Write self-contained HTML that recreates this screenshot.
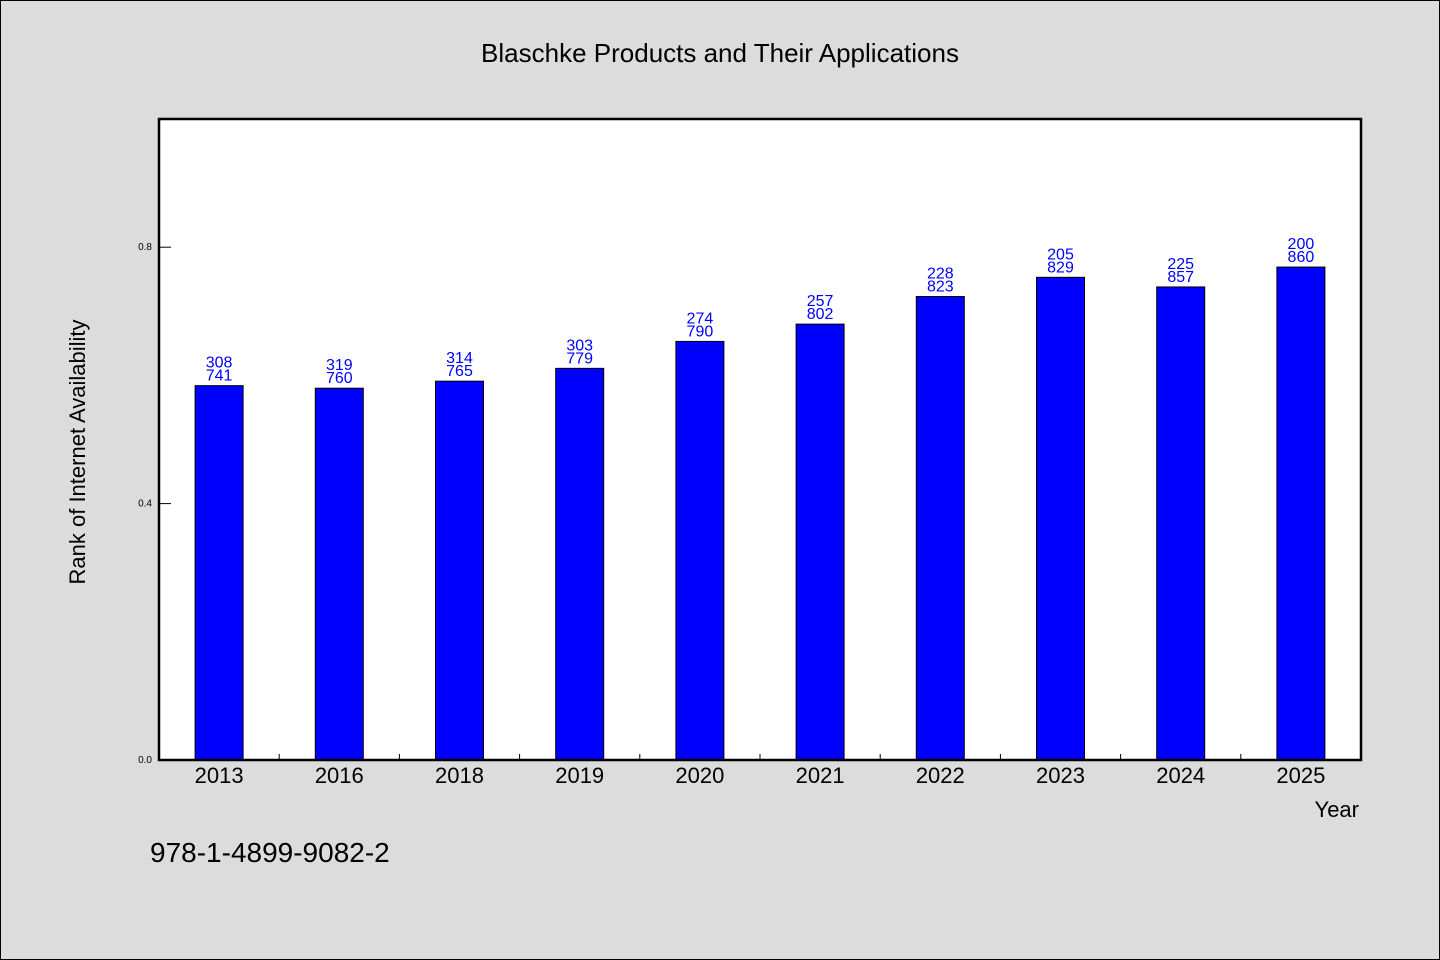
<!DOCTYPE html>
<html><head><meta charset="utf-8"><style>
body{margin:0;background:#dcdcdc;}
svg{display:block;font-family:"WenQuanYi Zen Hei","Liberation Sans",sans-serif;}
</style></head><body>
<svg id="chart" width="1440" height="960">
<rect x="0.5" y="0.5" width="1439" height="959" fill="#dcdcdc" stroke="#000"/>
<text x="720" y="62" text-anchor="middle" font-size="26">Blaschke Products and Their Applications</text>
<rect x="159" y="119" width="1202" height="641" fill="#fff"/>
<g id="bars"></g>
<g id="axes"></g>
<rect x="159" y="119" width="1202" height="641" fill="none" stroke="#000" stroke-width="2.5"/>
<text transform="translate(85,452) rotate(-90)" text-anchor="middle" font-size="22">Rank of Internet Availability</text>
<text x="1359" y="817" text-anchor="end" font-size="22">Year</text>
<text x="150" y="862" font-size="28">978-1-4899-9082-2</text>
</svg>
<script>
const categories=["2013","2016","2018","2019","2020","2021","2022","2023","2024","2025"];
const values=[0.584,0.580,0.591,0.611,0.653,0.680,0.723,0.753,0.738,0.769];
const labelTop=["308","319","314","303","274","257","228","205","225","200"];
const labelBottom=["741","760","765","779","790","802","823","829","857","860"];
const yTicks=[0,0.4,0.8];
const yTickLabels=["0.0","0.4","0.8"];
const NS="http://www.w3.org/2000/svg";
const X0=159,W=1202,Y0=760,H=641,YMAX=1.0;
const bw=W/categories.length;
const xs=i=>X0+bw*(i+0.5);
const ys=v=>Y0-v/YMAX*H;
function mk(t,a,p){const e=document.createElementNS(NS,t);for(const k in a)e.setAttribute(k,a[k]);p.appendChild(e);return e;}
const gb=document.getElementById('bars'),ga=document.getElementById('axes');
categories.forEach((c,i)=>{
 const x=xs(i),y=ys(values[i]);
 const r=mk('rect',{x:x-24,y:y,width:48,height:Y0-y,fill:'#0000ff',stroke:'#000','stroke-width':1},gb);
 
 
 const t1=mk('text',{x:x,y:y-18,'text-anchor':'middle','font-size':16,fill:'#0000ff'},gb);t1.textContent=labelTop[i];
 
 
 const t2=mk('text',{x:x,y:y-5,'text-anchor':'middle','font-size':16,fill:'#0000ff'},gb);t2.textContent=labelBottom[i];
 
 
 const xl=mk('text',{x:x,y:783,'text-anchor':'middle','font-size':22},ga);xl.textContent=c;
 
 
 if(i>0){const tk=mk('line',{x1:X0+bw*i,x2:X0+bw*i,y1:Y0,y2:Y0-6,stroke:'#000'},ga);
 
 }
});
yTicks.forEach((v,i)=>{
 const y=ys(v);
 const tk=mk('line',{x1:X0,x2:X0+12,y1:y,y2:y,stroke:'#000'},ga);
 
 
 const t=mk('text',{x:152,y:y+3,'text-anchor':'end','font-size':10},ga);t.textContent=yTickLabels[i];
 
 
});
</script>
</body></html>
